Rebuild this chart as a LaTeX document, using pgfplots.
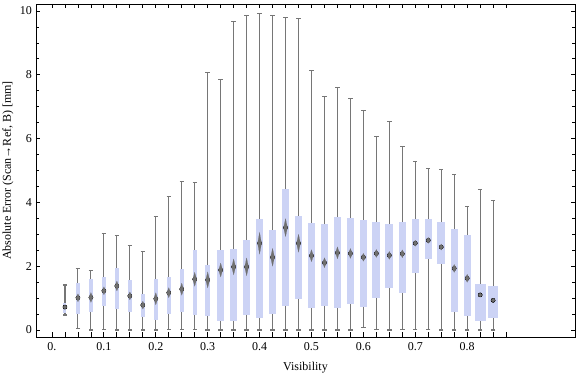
\documentclass[border=0pt]{standalone}
\usepackage{fontspec}
\setmainfont{Liberation Serif}
\usepackage{pgfplots}
\usepackage{pgfplotstable}
\pgfplotsset{compat=1.18}
\definecolor{boxblue}{RGB}{204,211,245}
\definecolor{whisk}{RGB}{118,118,118}
\definecolor{diam}{RGB}{112,112,112}
% i = visibility / 0.025 ; w = box width (px) ; dh = median marker half-height (px)
\pgfplotstableread{
i  lw   q1   med  q3   uw   w   dh
1  0.47 0.52 0.72 0.86 1.41 3   2
2  0.05 0.49 1.01 1.46 1.93 4   4
3  0.00 0.56 1.02 1.59 1.87 4   5
4  0.02 0.74 1.23 1.66 3.03 4   4
5  0.00 0.67 1.38 1.93 2.96 4   5
6  0.00 0.56 1.07 1.57 2.64 4   4
7  0.00 0.41 0.78 1.13 2.47 4   4
8  0.00 0.32 0.98 1.59 3.56 4   6
9  0.03 0.51 1.17 1.66 4.18 4   5
10 0.02 0.55 1.28 1.91 4.65 4   6
11 0.02 0.46 1.59 2.51 4.62 4   7
12 0.00 0.45 1.57 2.03 8.08 5   8
13 0.00 0.29 1.88 2.51 7.86 6.5 7
14 0.00 0.29 1.98 2.54 9.68 7   8
15 0.00 0.46 1.98 2.82 9.86 6.5 9
16 0.00 0.39 2.72 3.48 9.92 6.5 11
17 0.00 0.51 2.28 3.13 9.86 7   9
18 0.00 0.74 3.21 4.41 9.80 7   9
19 0.00 0.98 2.72 3.56 9.77 6.5 9
20 0.00 0.70 2.33 3.35 8.14 7   6
21 0.00 0.76 2.11 3.32 7.31 7   5
22 0.00 0.70 2.42 3.54 7.61 7   6
23 0.00 0.83 2.40 3.51 7.26 7   5
24 0.08 0.73 2.28 3.45 6.89 7   4
25 0.02 1.01 2.40 3.39 6.07 8   4
26 0.00 1.33 2.34 3.32 6.54 8   4
27 0.02 1.17 2.39 3.39 5.76 6.5 4
28 0.02 1.80 2.72 3.48 5.29 6.5 3
29 0.02 2.24 2.81 3.48 5.07 7   3
30 0.00 2.06 2.60 3.39 5.04 8   3
31 0.00 0.57 1.93 3.17 4.88 7   4
32 0.00 0.45 1.62 2.98 3.88 7   4
33 0.00 0.29 1.10 1.44 4.41 11  2
34 0.00 0.39 0.93 1.38 4.07 9.5 2
}\data
\begin{document}
\fontsize{12bp}{14bp}\selectfont
\begin{tikzpicture}
\begin{axis}[
  at={(0,0)}, anchor=south west,
  scale only axis, width=539bp, height=333bp,
  xmin=-1.233, xmax=40.31, ymin=-0.219, ymax=10.22,
  xtick={0,1,...,35},
  xticklabels={0.,,,,0.1,,,,0.2,,,,0.3,,,,0.4,,,,0.5,,,,0.6,,,,0.7,,,,0.8,,,},
  ytick={0,2,...,10},
  minor y tick num=3,
  major tick length=4.5bp, minor tick length=3bp,
  tick align=inside,
  axis line style={line width=0.8bp, black},
  tick style={line width=0.8bp, black},
  /pgf/number format/assume math mode=true,
  xticklabel style={yshift=-1bp},
  xlabel={Visibility},
  ylabel={Absolute Error (Scan→Ref, B) [mm]},
  every axis x label/.style={at={([yshift=-31bp]axis description cs:0.5,0)}, anchor=center},
  every axis y label/.style={at={([xshift=-28bp]axis description cs:0,0.5)}, anchor=center, rotate=90},
]
% whiskers
\addplot[only marks, mark=none,
  error bars/.cd, y dir=both, y explicit,
  error bar style={whisk, line width=1.1bp},
  error mark=|, error mark options={whisk, line width=1.1bp, mark size=2.2bp}]
  table[x=i, y=med, y error plus expr=\thisrow{uw}-\thisrow{med}, y error minus expr=\thisrow{med}-\thisrow{lw}] {\data};
% boxes, grouped by width
\pgfplotsinvokeforeach{3,4,5,6.5,7,8,9.5,11}{
\addplot[only marks, mark=none,
  restrict expr to domain={\thisrow{w}}{#1:#1},
  error bars/.cd, y dir=both, y explicit,
  error bar style={boxblue, line width=#1bp},
  error mark=none]
  table[x=i, y=med, y error plus expr=\thisrow{q3}-\thisrow{med}, y error minus expr=\thisrow{med}-\thisrow{q1}] {\data};
}
% median diamonds, grouped by height
\pgfplotsinvokeforeach{2,3,4,5,6,7,8,9,11}{
\addplot[only marks, mark=diamond*, mark size=1bp, color=diam,
  restrict expr to domain={\thisrow{dh}}{#1:#1},
  mark options={draw=diam, fill=diam, line width=0.1bp, xscale=2.6, yscale=#1}]
  table[x=i, y=med] {\data};
}
\end{axis}
\pgfresetboundingbox
\path (-36bp,-40bp) rectangle (540bp,337bp);
\end{tikzpicture}
\end{document}
